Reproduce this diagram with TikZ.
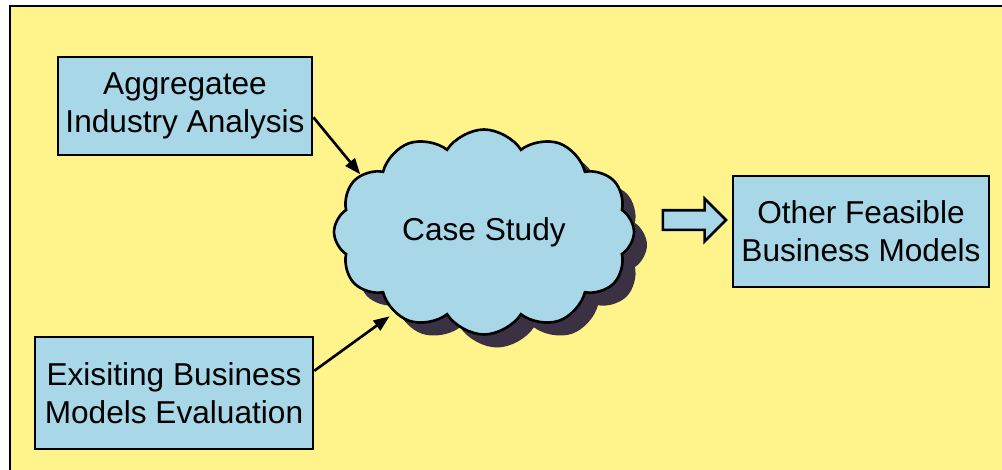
\documentclass[tikz,border=0pt]{standalone}
\usepackage{fontspec}
\setmainfont{Liberation Sans}
\usetikzlibrary{arrows.meta, shapes.symbols, shapes.arrows, shadows}
\definecolor{paleyellow}{RGB}{255,244,140}
\definecolor{skyblue}{RGB}{168,215,232}
\definecolor{shadowgray}{RGB}{58,50,66}
\tikzset{
  box/.style={draw=black, rectangle, align=center, inner sep=0pt, fill=skyblue, line width=1.5pt, font=\fontsize{18}{21.5}\selectfont},
  bubble/.style={draw=black, cloud, cloud puffs=12, cloud puff arc=115, aspect=1.5, fill=skyblue, line width=1.5pt, inner sep=0pt, font=\fontsize{18}{21.5}\selectfont,
    drop shadow={shadow xshift=0.26cm, shadow yshift=-0.26cm, fill=shadowgray, opacity=1}},
  blockarrow/.style={draw=black, single arrow, fill=skyblue, line width=1.5pt, inner xsep=0pt, inner ysep=0.17cm, single arrow head extend=0.23cm, minimum height=1.26cm},
  arrow/.style={-{Triangle[length=0.32cm, width=0.24cm]}, line width=1.5pt, draw=black}
}
\begin{document}
\begin{tikzpicture}

\clip (0,0) rectangle (20.04,-9.38);
\draw[fill=paleyellow, line width=1.5pt] (0.20,-0.12) rectangle (21,-10);

\node[box, minimum width=5.08cm, minimum height=1.96cm] (aggr) at (3.70,-2.12) {Aggregatee\\Industry Analysis};
\node[box, minimum width=5.56cm, minimum height=2.24cm] (exist) at (3.48,-7.86) {Exisiting Business\\Models Evaluation};
\node[bubble, minimum width=6.0cm, minimum height=4.1cm] (case) at (9.68,-4.64) {Case Study};
\node[blockarrow] (flow) at (13.79,-4.40) {};
\node[box, minimum width=5.12cm, minimum height=2.22cm] (other) at (17.22,-4.63) {Other Feasible\\Business Models};

\draw[arrow] (aggr.-5) -- (case.155);
\draw[arrow, shorten >=3pt] (exist.9) -- (case.-138);

\end{tikzpicture}
\end{document}
